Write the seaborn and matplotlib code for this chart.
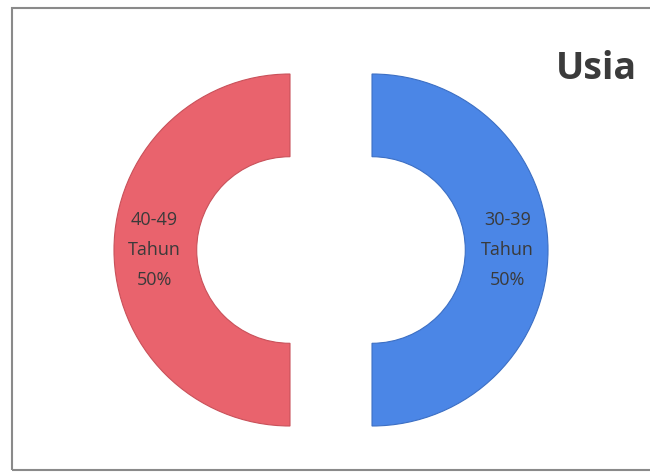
import matplotlib
matplotlib.use("Agg")
import matplotlib.pyplot as plt
import matplotlib.patches as mpatches
import seaborn as sns

# data
groups = ["30-39", "40-49"]
percent = [50, 50]
colors = ["#4B86E6", "#E9636D"]
edges = ["#3c6fc4", "#c9515a"]
title = "Usia"

sns.set_theme(style="white")
plt.rcParams['font.family'] = ['Liberation Sans Narrow', 'Open Sans', 'DejaVu Sans']

fig = plt.figure(figsize=(6.5, 4.73), dpi=100)
ax = fig.add_axes([0, 0, 1, 1])

labels = [f"{g}\nTahun\n{p}%" for g, p in zip(groups, percent)]
wedges, texts = ax.pie(percent, labels=labels, colors=colors, startangle=90,
                       counterclock=False, radius=1.0, explode=[0.233, 0.233],
                       labeldistance=0.77,
                       wedgeprops=dict(width=0.47, linewidth=0.8),
                       textprops=dict(fontsize=13, color="#3a3a3a",
                                      ha="center", va="center", linespacing=1.85))
for w, e in zip(wedges, edges):
    w.set_edgecolor(e)

# px mapping: 176 px per unit, donut centre at (331, 250) from top-left
s = 176.0
ax.set_xlim(-331 / s, (650 - 331) / s)
ax.set_ylim(-(473 - 250) / s, 250 / s)
ax.set_aspect("equal")
ax.axis("off")

fig.text(556 / 650, 1 - 69 / 473, title, fontsize=27, fontweight="bold",
         color="#3b3b3b", ha="left", va="center",
         family=['Open Sans', 'DejaVu Sans'])

border = mpatches.Rectangle((12 / 650, 1 - 470 / 473), 700 / 650, 462 / 473,
                            transform=fig.transFigure, fill=False,
                            edgecolor="#8a8a8a", linewidth=1.5, clip_on=False)
fig.patches.append(border)

fig.savefig("out.png", dpi=100, facecolor="white")
